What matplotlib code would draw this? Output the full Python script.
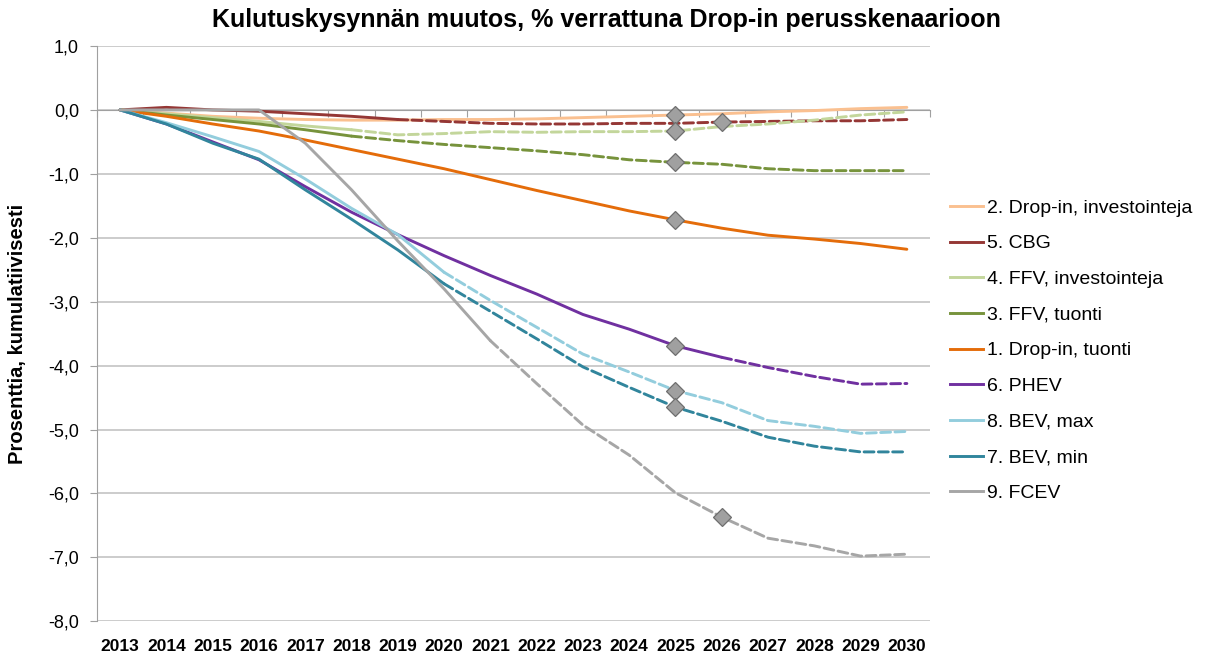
import numpy as np
import matplotlib
matplotlib.use("Agg")
import matplotlib.pyplot as plt
from matplotlib.lines import Line2D

plt.rcParams['font.family'] = ['Liberation Sans', 'DejaVu Sans']

years = list(range(2013, 2031))

# values per series, % change vs Drop-in base scenario
drop_in_inv = [0, -0.05, -0.10, -0.13, -0.15, -0.16, -0.16, -0.15, -0.15, -0.14,
               -0.12, -0.10, -0.08, -0.06, -0.03, -0.01, 0.02, 0.04]
cbg = [0, 0.04, 0.0, -0.02, -0.06, -0.10, -0.15, -0.18, -0.21, -0.22,
       -0.22, -0.21, -0.21, -0.19, -0.18, -0.17, -0.17, -0.15]
ffv_inv = [0, -0.06, -0.12, -0.18, -0.25, -0.31, -0.39, -0.37, -0.34, -0.35,
           -0.34, -0.34, -0.33, -0.26, -0.22, -0.16, -0.08, -0.03]
ffv_tuonti = [0, -0.08, -0.15, -0.22, -0.31, -0.41, -0.48, -0.54, -0.59, -0.64,
              -0.70, -0.78, -0.82, -0.85, -0.92, -0.95, -0.95, -0.95]
drop_in_tuonti = [0, -0.10, -0.22, -0.33, -0.47, -0.62, -0.77, -0.92, -1.09, -1.26,
                  -1.42, -1.58, -1.72, -1.85, -1.96, -2.02, -2.09, -2.18]
phev = [0, -0.22, -0.50, -0.78, -1.20, -1.60, -1.95, -2.28, -2.59, -2.88,
        -3.20, -3.43, -3.69, -3.87, -4.03, -4.17, -4.29, -4.28]
bev_max = [0, -0.20, -0.42, -0.65, -1.08, -1.54, -1.95, -2.54, -2.98, -3.40,
           -3.82, -4.10, -4.39, -4.58, -4.86, -4.95, -5.06, -5.03]
bev_min = [0, -0.22, -0.52, -0.77, -1.25, -1.71, -2.19, -2.72, -3.15, -3.58,
           -4.02, -4.34, -4.65, -4.87, -5.12, -5.26, -5.35, -5.35]
fcev = [0, 0.0, 0.0, 0.0, -0.52, -1.25, -2.05, -2.80, -3.61, -4.28,
        -4.93, -5.40, -5.99, -6.37, -6.70, -6.82, -6.98, -6.95]

labels = ["2. Drop-in, investointeja", "5. CBG", "4. FFV, investointeja",
          "3. FFV, tuonti", "1. Drop-in, tuonti", "6. PHEV", "8. BEV, max",
          "7. BEV, min", "9. FCEV"]
series = [drop_in_inv, cbg, ffv_inv, ffv_tuonti, drop_in_tuonti, phev,
          bev_max, bev_min, fcev]
colors = ["#FAC090", "#953735", "#C3D69B", "#77933C", "#E46C0A", "#7030A0",
          "#93CDDD", "#31859C", "#A6A6A6"]
# last year drawn solid (dashed afterwards), None = solid all the way
solid_until = [None, 2019, 2018, 2018, None, 2026, 2020, 2020, 2021]
# year with the grey diamond marker
marker_year = [2025, 2026, 2025, 2025, 2025, 2025, 2025, 2025, 2026]

fig = plt.figure(figsize=(12.05, 6.59), dpi=100)
ax = fig.add_axes([97 / 1205, 1 - 621.3 / 659, (930 - 97) / 1205, (621.3 - 46) / 659])

yr = np.array(years)
lw = 2.1
for vals, col, su in zip(series, colors, solid_until):
    v = np.array(vals)
    if su is None:
        ax.plot(yr, v, color=col, lw=lw, solid_capstyle='round', zorder=3)
    else:
        m = yr <= su
        ax.plot(yr[m], v[m], color=col, lw=lw, solid_capstyle='round', zorder=3)
        m2 = yr >= su
        ax.plot(yr[m2], v[m2], color=col, lw=lw, linestyle=(0, (3.4, 1.5)),
                dash_capstyle='round', zorder=3)

for vals, my in zip(series, marker_year):
    ax.plot(my, vals[years.index(my)], marker='D', ms=9, mfc='#A0A0A0',
            mec='#6E6E6E', mew=0.9, zorder=5)

ax.set_xlim(2012.5, 2030.5)
ax.set_ylim(-8, 1)
yt = np.arange(-8, 2, 1)
ax.set_yticks(yt)
ax.set_yticklabels([f"{v:.1f}".replace('.', ',') for v in yt], fontsize=13)
ax.yaxis.grid(True, color='#BFBFBF', lw=1.1)
ax.set_axisbelow(True)

# horizontal axis crosses at zero, tick marks between categories
ax.spines['bottom'].set_position(('data', 0))
ax.spines['bottom'].set_color('#A0A0A0')
ax.spines['left'].set_color('#A0A0A0')
ax.spines['top'].set_visible(False)
ax.spines['right'].set_visible(False)
ax.set_xticks(np.arange(2012.5, 2031, 1))
ax.set_xticklabels([])
ax.tick_params(axis='x', length=5, color='#A0A0A0', direction='out')
ax.tick_params(axis='y', length=5, color='#A0A0A0', pad=8)

for y in years:
    ax.annotate(str(y), xy=(y, 0), xycoords=('data', 'axes fraction'),
                xytext=(0, -13), textcoords='offset points', ha='center',
                va='top', fontsize=12.5, fontweight='bold')

ax.set_ylabel("Prosenttia, kumulatiivisesti", fontsize=14.5, fontweight='bold')
ax.yaxis.set_label_coords(-(97 - 27) / 833, 0.5)

fig.text(606 / 1205, 1 - 20 / 659, "Kulutuskysynnän muutos, % verrattuna Drop-in perusskenaarioon",
         ha='center', va='center', fontsize=18, fontweight='bold')

handles = [Line2D([0], [0], color=c, lw=lw) for c in colors]
fig.legend(handles, labels, loc='upper left', bbox_to_anchor=(950 / 1205, 1 - 199 / 659),
           frameon=False, fontsize=14, handlelength=1.7, handletextpad=0.2,
           labelspacing=0.93, borderpad=0, borderaxespad=0)

fig.savefig("out.png", dpi=100)
